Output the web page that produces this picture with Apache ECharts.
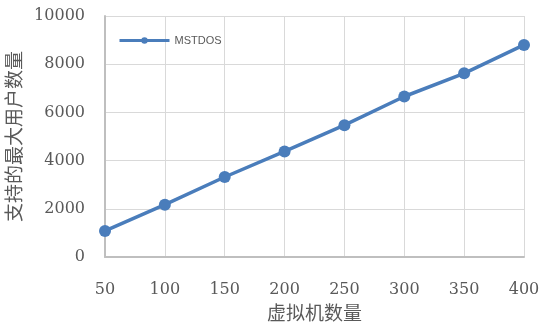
<!DOCTYPE html>
<html>
<head>
<meta charset="utf-8">
<script src="https://cdn.jsdelivr.net/npm/echarts@6/dist/echarts.min.js"></script>
<style>
  html, body { margin: 0; padding: 0; background: #fff; }
  #chart { width: 539px; height: 334px; }
</style>
</head>
<body>
<div id="chart"></div>
<script>
// Number of virtual machines (x axis categories)
const vmCounts = ['50', '100', '150', '200', '250', '300', '350', '400'];
// Maximum supported users for MSTDOS
const mstdosUsers = [1080, 2170, 3320, 4380, 5470, 6660, 7620, 8800];
const seriesName = 'MSTDOS';
const xTitle = '虚拟机数量';
const yTitle = '支持的最大用户数量';

const textGray = '#595959';
const gridGray = '#d9d9d9';
const axisGray = '#bfbfbf';
const blue = '#4a7dbb';

const chart = echarts.init(document.getElementById('chart'));
chart.setOption({
  animation: false,
  backgroundColor: '#fff',
  grid: { left: 105, right: 15, top: 16, bottom: 77, containLabel: false, outerBoundsMode: 'none' },
  legend: {
    left: 113,
    top: 30,
    itemWidth: 50,
    itemHeight: 8,
    itemGap: 5,
    data: [seriesName],
    lineStyle: { width: 3 },
    textStyle: { color: textGray, fontSize: 11, fontFamily: 'Liberation Sans, Arial, sans-serif' }
  },
  xAxis: {
    type: 'category',
    data: vmCounts,
    boundaryGap: false,
    name: xTitle,
    nameLocation: 'middle',
    nameGap: 43,
    nameTextStyle: { color: textGray, fontSize: 19, fontFamily: 'Noto Sans CJK SC' },
    axisLine: { show: true, lineStyle: { color: axisGray, width: 2 } },
    axisTick: { show: false },
    axisLabel: { color: textGray, fontSize: 16, margin: 25, fontFamily: 'DejaVu Serif' },
    splitLine: { show: true, lineStyle: { color: gridGray, width: 1 } }
  },
  yAxis: {
    type: 'value',
    min: 0,
    max: 10000,
    interval: 2000,
    name: yTitle,
    nameLocation: 'middle',
    nameRotate: 90,
    nameGap: 68,
    nameTextStyle: { color: textGray, fontSize: 19, fontFamily: 'Noto Sans CJK SC' },
    axisLine: { show: true, lineStyle: { color: axisGray, width: 2 } },
    axisTick: { show: false },
    axisLabel: {
      color: textGray, fontSize: 16, margin: 20, fontFamily: 'DejaVu Serif',
      formatter: (v) => String(v)
    },
    splitLine: { show: true, lineStyle: { color: gridGray, width: 1 } }
  },
  series: [{
    name: seriesName,
    type: 'line',
    data: mstdosUsers,
    symbol: 'circle',
    symbolSize: 12,
    itemStyle: { color: blue },
    lineStyle: { color: blue, width: 3.5 }
  }]
});
</script>
</body>
</html>
